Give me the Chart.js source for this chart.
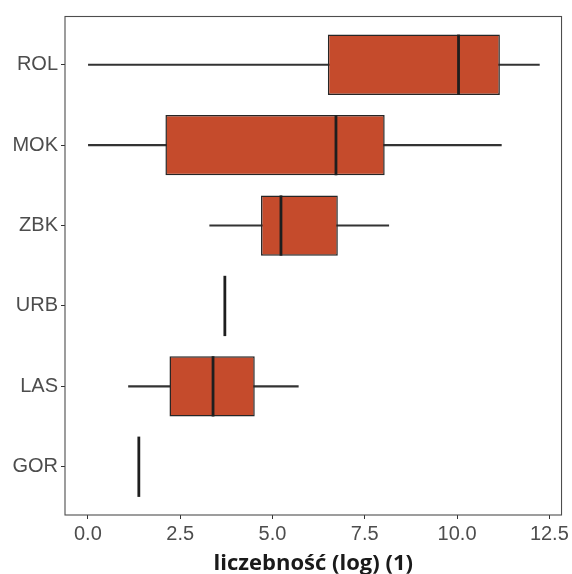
<!DOCTYPE html>
<html>
<head>
<meta charset="utf-8">
<script src="https://cdn.jsdelivr.net/npm/chart.js@4"></script>
<style>
  html, body { margin: 0; padding: 0; background: #fff; }
  canvas { display: block; }
</style>
</head>
<body>
<canvas id="chart" width="572" height="574"></canvas>
<script>
// boxplot stats per habitat
const categories = ['ROL', 'MOK', 'ZBK', 'URB', 'LAS', 'GOR'];
const whiskerLow = [0.00, 0.00, 3.30, 3.71, 1.10, 1.38];
const q1 = [6.50, 2.10, 4.69, 3.71, 2.21, 1.38];
const median = [10.04, 6.72, 5.23, 3.71, 3.39, 1.38];
const q3 = [11.16, 8.04, 6.77, 3.71, 4.52, 1.38];
const whiskerHigh = [12.23, 11.20, 8.15, 3.71, 5.70, 1.38];
const xTicks = [0, 2.5, 5, 7.5, 10, 12.5];

const boxFill = '#C54B2C';
const lineCol = '#262626';

const boxData = categories.map((c, i) => ({ x: [q1[i], q3[i]], y: i + 1 }));
const whiskerData = categories.map((c, i) => ({ x: [whiskerLow[i], whiskerHigh[i]], y: i + 1 }));

// median lines + panel border
const boxExtras = {
    id: 'boxExtras',
    afterDatasetsDraw(chart) {
        const ctx = chart.ctx;
        const xs = chart.scales.x;
        const boxes = chart.getDatasetMeta(0).data;
        ctx.save();
        ctx.strokeStyle = '#1e1e1e';
        ctx.lineWidth = 2.8;
        boxes.forEach((el, i) => {
            const px = xs.getPixelForValue(median[i]);
            ctx.beginPath();
            ctx.moveTo(px, el.y - el.height / 2);
            ctx.lineTo(px, el.y + el.height / 2);
            ctx.stroke();
        });
        ctx.restore();
    },
    afterDraw(chart) {
        const { left, top, right, bottom } = chart.chartArea;
        const ctx = chart.ctx;
        ctx.save();
        ctx.strokeStyle = '#4d4d4d';
        ctx.lineWidth = 1.1;
        ctx.strokeRect(left, top, right - left, bottom - top);
        ctx.restore();
    }
};

const ctx = document.getElementById('chart').getContext('2d');
new Chart(ctx, {
    type: 'bar',
    data: {
        datasets: [
            {
                label: 'box',
                data: boxData,
                backgroundColor: boxFill,
                borderColor: lineCol,
                borderWidth: 1.5,
                borderSkipped: false,
                grouped: false,
                barPercentage: 0.75,
                categoryPercentage: 1
            },
            {
                label: 'whisker',
                data: whiskerData,
                backgroundColor: '#333333',
                borderWidth: 0,
                grouped: false,
                barThickness: 1.4
            }
        ]
    },
    options: {
        indexAxis: 'y',
        responsive: false,
        animation: false,
        layout: {
            padding: { top: 16.5, right: 8, left: 0, bottom: 0 }
        },
        scales: {
            x: {
                type: 'linear',
                min: -0.62,
                max: 12.83,
                afterBuildTicks: axis => { axis.ticks = xTicks.map(v => ({ value: v })); },
                afterFit: axis => { axis.height = 59; },
                border: { display: false },
                grid: {
                    drawOnChartArea: false,
                    drawTicks: true,
                    tickLength: 4,
                    color: '#333'
                },
                ticks: {
                    padding: 3,
                    color: '#4d4d4d',
                    font: { family: 'Liberation Sans', size: 20 },
                    callback: v => v.toFixed(1)
                },
                title: {
                    display: true,
                    text: 'liczebność (log) (1)',
                    color: '#1a1a1a',
                    font: { family: 'Open Sans', size: 22, weight: 'bold', lineHeight: 1.2 },
                    padding: { top: 0, bottom: -3 }
                }
            },
            y: {
                type: 'linear',
                reverse: true,
                offset: false,
                min: 0.4,
                max: 6.6,
                afterBuildTicks: axis => { axis.ticks = categories.map((c, i) => ({ value: i + 1 })); },
                afterFit: axis => { axis.width = 65; },
                border: { display: false },
                grid: {
                    offset: false,
                    drawOnChartArea: false,
                    drawTicks: true,
                    tickLength: 4,
                    color: '#333'
                },
                ticks: {
                    padding: 3,
                    color: '#4d4d4d',
                    font: { family: 'Liberation Sans', size: 20 },
                    callback: v => categories[Math.round(v) - 1] || ''
                }
            }
        },
        plugins: {
            legend: { display: false },
            tooltip: { enabled: false }
        }
    },
    plugins: [boxExtras]
});
</script>
</body>
</html>
